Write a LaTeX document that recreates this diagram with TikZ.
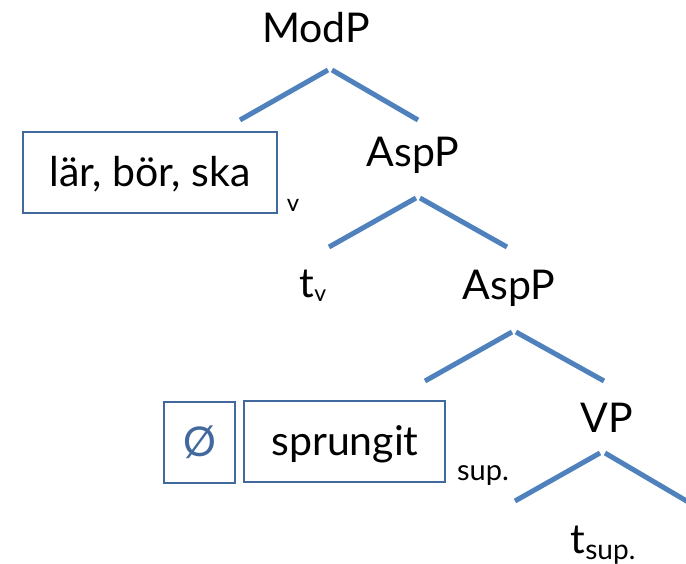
\documentclass[tikz,border=0pt]{standalone}
\usepackage{fontspec}
\setmainfont{Lato}
\definecolor{branch}{HTML}{4F81BD}
\definecolor{boxline}{HTML}{41699E}
\tikzset{
  lbl/.style={font=\fontsize{41}{46}\selectfont, inner sep=0pt, anchor=base},
  sub/.style={font=\fontsize{29}{32}\selectfont, inner sep=0pt, anchor=base},
  wordbox/.style={draw=boxline, line width=2pt, fill=none, inner sep=0pt},
  branchline/.style={draw=branch, line width=5pt},
}
\begin{document}
\begin{tikzpicture}[x=1pt,y=-1pt]
\useasboundingbox (0,0) rectangle (686,564);
% labels
\node[lbl] (modp) at (316,43) {ModP};
\node[lbl] (asp1) at (413,167) {AspP};
\node[lbl] (asp2) at (509,300) {AspP};
\node[lbl] (vp) at (607,432) {VP};
\node[lbl] (tv) at (313,298) {t\raisebox{-4pt}{\fontsize{23}{25}\selectfont v}};
\node[lbl] (tsup) at (603,553) {t\raisebox{-6pt}{\fontsize{28}{30}\selectfont sup.}};
% boxes
\node[wordbox, minimum width=254pt, minimum height=81pt] (lbox) at (150,172.5) {};
\node[lbl] (ltext) at (150,187) {lär, bör, ska};
\node[sub, font=\fontsize{24}{26}\selectfont] (vsub) at (293,212) {v};
\node[wordbox, minimum width=71pt, minimum height=81pt] (obox) at (199.5,442.5) {};
\node[lbl, text=boxline] (otext) at (199.5,456) {Ø};
\node[wordbox, minimum width=201pt, minimum height=81pt] (sbox) at (344.5,441.5) {};
\node[lbl] (stext) at (345,455) {sprungit};
\node[sub] (ssub) at (483,480) {sup.};
% branch endpoints
\coordinate (m1) at (328,70);
\coordinate (m2) at (332,70);
\coordinate (ml) at (240,120);
\coordinate (mr) at (418,120);
\coordinate (a1) at (416,198);
\coordinate (a2) at (420,198);
\coordinate (al) at (329,247);
\coordinate (ar) at (507,247);
\coordinate (b1) at (512,332);
\coordinate (b2) at (516,332);
\coordinate (bl) at (425,381);
\coordinate (br) at (604,381);
\coordinate (c1) at (600,453);
\coordinate (c2) at (605,453);
\coordinate (cl) at (515,501);
\coordinate (cr) at (690,503);
\draw[branchline] (m1) -- (ml);
\draw[branchline] (m2) -- (mr);
\draw[branchline] (a1) -- (al);
\draw[branchline] (a2) -- (ar);
\draw[branchline] (b1) -- (bl);
\draw[branchline] (b2) -- (br);
\draw[branchline] (c1) -- (cl);
\draw[branchline] (c2) -- (cr);
\end{tikzpicture}
\end{document}
